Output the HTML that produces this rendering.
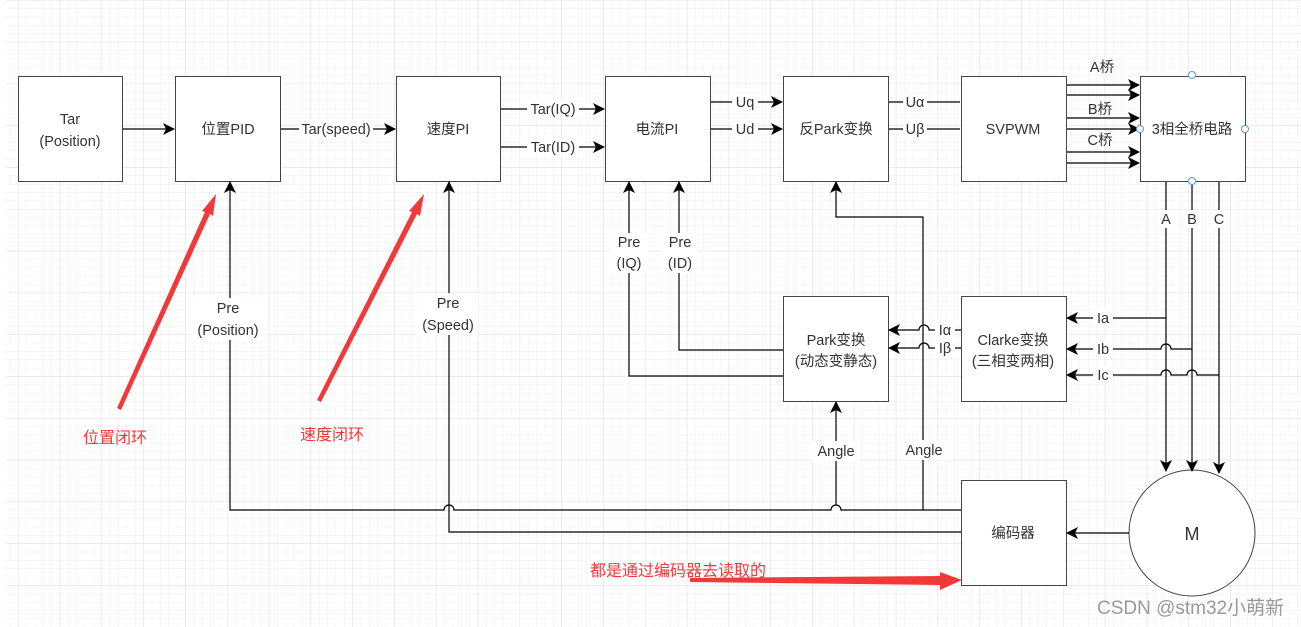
<!DOCTYPE html>
<html><head><meta charset="utf-8"><style>
html,body{margin:0;padding:0;background:#fff;}
svg{display:block;}
text{font-family:"Liberation Sans","Noto Sans CJK SC",sans-serif;font-size:14.5px;fill:#333;}
</style></head><body>
<svg width="1301" height="627" viewBox="0 0 1301 627" xmlns="http://www.w3.org/2000/svg">
<defs>
<pattern id="minor" x="18" y="0" width="8.36" height="8.36" patternUnits="userSpaceOnUse">
<path d="M0 0H8.36M0 0V8.36" stroke="#efefef" stroke-width="1" fill="none"/>
</pattern>
<pattern id="major" x="18" y="0" width="41.8" height="41.8" patternUnits="userSpaceOnUse">
<path d="M0 0H41.8M0 0V41.8" stroke="#e0e0e0" stroke-width="1" fill="none"/>
</pattern>
<marker id="a" markerWidth="12" markerHeight="12" refX="11" refY="6" orient="auto" markerUnits="userSpaceOnUse">
<path d="M0 0L12 6L0 12L3 6Z" fill="#000"/>
</marker>
</defs>
<rect x="6" y="0" width="1295" height="627" fill="url(#minor)"/>
<rect x="6" y="0" width="1295" height="627" fill="url(#major)"/>

<g fill="#fff" stroke="#444" stroke-width="1">
<rect x="18.5" y="76.5" width="104" height="105"/>
<rect x="175.5" y="76.5" width="105" height="105"/>
<rect x="396.5" y="76.5" width="104" height="105"/>
<rect x="605.5" y="76.5" width="105" height="105"/>
<rect x="783.5" y="76.5" width="105" height="105"/>
<rect x="961.5" y="76.5" width="105" height="105"/>
<rect x="1140.5" y="76.5" width="105" height="105"/>
<rect x="783.5" y="296.5" width="105" height="105"/>
<rect x="961.5" y="296.5" width="105" height="105"/>
<rect x="961.5" y="480.5" width="105" height="105"/>
<circle cx="1192" cy="533" r="63"/>
</g>

<g stroke="#000" stroke-width="1.2" fill="none">
<path d="M123 129H174" marker-end="url(#a)"/>
<path d="M281 129H395" marker-end="url(#a)"/>
<path d="M501 109H604" marker-end="url(#a)"/>
<path d="M501 147H604" marker-end="url(#a)"/>
<path d="M711 102H782" marker-end="url(#a)"/>
<path d="M711 129H782" marker-end="url(#a)"/>
<path d="M889 102H960"/>
<path d="M889 129H960"/>
<path d="M1067 85H1139" marker-end="url(#a)"/>
<path d="M1067 95H1139" marker-end="url(#a)"/>
<path d="M1067 118H1139" marker-end="url(#a)"/>
<path d="M1067 129H1139" marker-end="url(#a)"/>
<path d="M1067 152H1139" marker-end="url(#a)"/>
<path d="M1067 163H1139" marker-end="url(#a)"/>
<path d="M1166 182V471" marker-end="url(#a)"/>
<path d="M1192 182V471" marker-end="url(#a)"/>
<path d="M1219 182V473" marker-end="url(#a)"/>
<path d="M1166 318H1067" marker-end="url(#a)"/>
<path d="M1192 349H1171a5 5 0 0 0 -10 0H1067" marker-end="url(#a)"/>
<path d="M1219 375H1197a5 5 0 0 0 -10 0H1171a5 5 0 0 0 -10 0H1067" marker-end="url(#a)"/>
<path d="M961 330H929a5 5 0 0 0 -10 0H889" marker-end="url(#a)"/>
<path d="M961 348H929a5 5 0 0 0 -10 0H889" marker-end="url(#a)"/>
<path d="M923 510V217H836V182" marker-end="url(#a)"/>
<path d="M836 505V402" marker-end="url(#a)"/>
<path d="M961 510H841a5 5 0 0 0 -10 0H454a5 5 0 0 0 -10 0H230V182" marker-end="url(#a)"/>
<path d="M961 532H449V182" marker-end="url(#a)"/>
<path d="M783 376H629V182" marker-end="url(#a)"/>
<path d="M783 350H679V182" marker-end="url(#a)"/>
<path d="M1129 533H1067" marker-end="url(#a)"/>
</g>

<g fill="#fff" stroke="#5b9bd5" stroke-width="1">
<circle cx="1192" cy="75" r="3.5"/><circle cx="1140" cy="129" r="3.5"/>
<circle cx="1245" cy="129" r="3.5"/><circle cx="1192" cy="181" r="3.5"/>
</g>

<g fill="#fff">
<rect x="299" y="120" width="74" height="18"/>
<rect x="527" y="100" width="52" height="18"/><rect x="527" y="138" width="52" height="18"/>
<rect x="732" y="93" width="26" height="18"/><rect x="732" y="120" width="26" height="18"/>
<rect x="903" y="93" width="24" height="18"/><rect x="903" y="120" width="24" height="18"/>
<rect x="1158" y="210" width="16" height="18"/><rect x="1184" y="210" width="16" height="18"/><rect x="1211" y="210" width="16" height="18"/>
<rect x="1093" y="309" width="20" height="18"/><rect x="1093" y="340" width="20" height="18"/><rect x="1093" y="366" width="20" height="18"/>
<rect x="935" y="321" width="20" height="18"/><rect x="935" y="339" width="20" height="18"/>
<rect x="610" y="233" width="38" height="40"/><rect x="660" y="233" width="38" height="40"/>
<rect x="190" y="298" width="78" height="42"/><rect x="418" y="293" width="60" height="42"/>
<rect x="812" y="441" width="48" height="20"/><rect x="900" y="440" width="48" height="20"/>
</g>
<g text-anchor="middle">
<text x="70" y="124">Tar</text><text x="70" y="146">(Position)</text>
<text x="228" y="134">位置PID</text>
<text x="448" y="134">速度PI</text>
<text x="657" y="134">电流PI</text>
<text x="836" y="134">反Park变换</text>
<text x="1013" y="134">SVPWM</text>
<text x="1192" y="134">3相全桥电路</text>
<text x="836" y="345">Park变换</text><text x="836" y="366">(动态变静态)</text>
<text x="1013" y="345">Clarke变换</text><text x="1013" y="366">(三相变两相)</text>
<text x="1013" y="538">编码器</text>
<text x="1192" y="540" style="font-size:18px">M</text>
<text x="336" y="134">Tar(speed)</text>
<text x="553" y="114">Tar(IQ)</text><text x="553" y="152">Tar(ID)</text>
<text x="745" y="107">Uq</text><text x="745" y="134">Ud</text>
<text x="915" y="107">Uα</text><text x="915" y="134">Uβ</text>
<text x="1102" y="72">A桥</text><text x="1100" y="114">B桥</text><text x="1100" y="145">C桥</text>
<text x="1166" y="224">A</text><text x="1192" y="224">B</text><text x="1219" y="224">C</text>
<text x="1103" y="323">Ia</text><text x="1103" y="354">Ib</text><text x="1103" y="380">Ic</text>
<text x="945" y="335">Iα</text><text x="945" y="353">Iβ</text>
<text x="629" y="247">Pre</text><text x="629" y="268">(IQ)</text>
<text x="680" y="247">Pre</text><text x="680" y="268">(ID)</text>
<text x="228" y="313">Pre</text><text x="228" y="335">(Position)</text>
<text x="448" y="308">Pre</text><text x="448" y="330">(Speed)</text>
<text x="836" y="456">Angle</text><text x="924" y="455">Angle</text>
</g>

<g fill="#f03a3a">
<path d="M117 408L205 212L202 211L216 194L213 216L210 214L121 410Z"/>
<path d="M317 400L412 212L409 211L424 194L420 216L417 214L321 402Z"/>
<path d="M690 578L940 576L940 572L962 580L940 590L940 585L690 582Z"/>
</g>
<text x="83" y="443" style="fill:#f03a3a;font-size:16px">位置闭环</text>
<text x="300" y="440" style="fill:#f03a3a;font-size:16px">速度闭环</text>
<text x="590" y="576" style="fill:#f03a3a;font-size:16px">都是通过编码器去读取的</text>
<text x="1097" y="614" style="fill:#999;font-size:19px">CSDN @stm32小萌新</text>
</svg>
</body></html>
